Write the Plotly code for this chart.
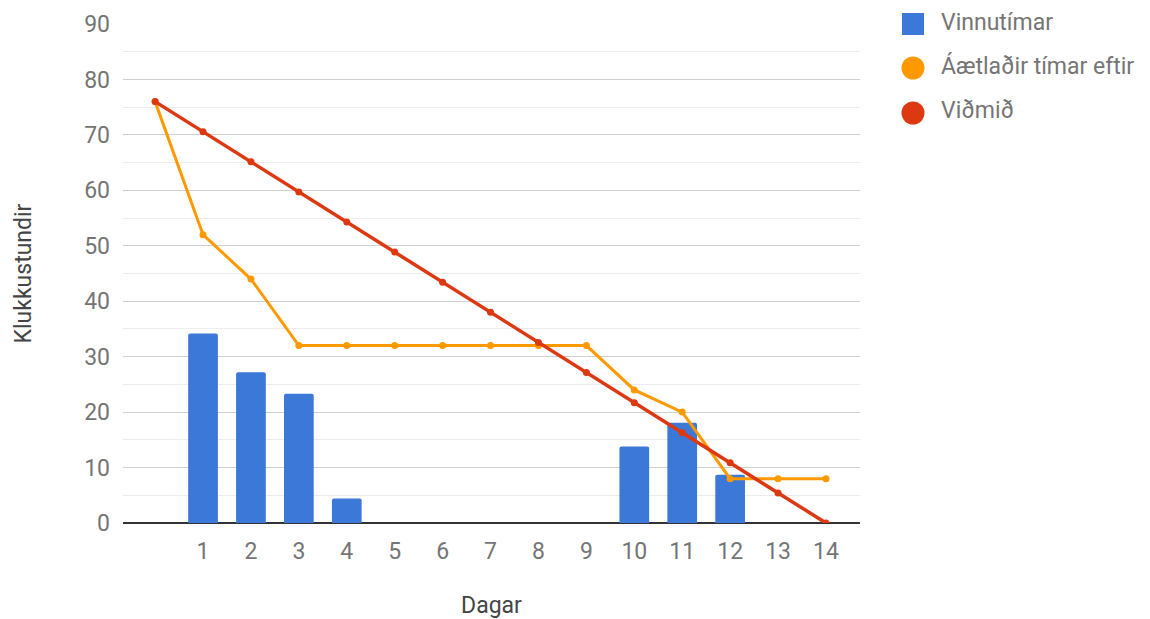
import plotly.graph_objects as go

# Days and series
days_bar = [1, 2, 3, 4, 5, 6, 7, 8, 9, 10, 11, 12, 13, 14]
vinnutimar = [34.2, 27.2, 23.3, 4.4, 0, 0, 0, 0, 0, 13.8, 18.1, 8.7, 0, 0]

days_line = [0, 1, 2, 3, 4, 5, 6, 7, 8, 9, 10, 11, 12, 13, 14]
aaetladir = [76, 52, 44, 32, 32, 32, 32, 32, 32, 32, 24, 20, 8, 8, 8]
vidmid = [76, 70.57, 65.14, 59.71, 54.29, 48.86, 43.43, 38, 32.57, 27.14,
          21.71, 16.29, 10.86, 5.43, 0]

series_names = ["Vinnutímar", "Áætlaðir tímar eftir", "Viðmið"]
x_ticks = [1, 2, 3, 4, 5, 6, 7, 8, 9, 10, 11, 12, 13, 14]
y_ticks = [0, 10, 20, 30, 40, 50, 60, 70, 80, 90]

BLUE = "#3c78d8"
ORANGE = "#ff9900"
RED = "#dc3912"
FONT = "Roboto"
GREY = "#757575"
TITLE = "#444444"
FS = 23

W, H = 1150, 619
M_L, M_R, M_T, M_B = 123, 290, 24, 96
PW, PH = W - M_L - M_R, H - M_T - M_B


def px_x(px):
    """Pixel column -> paper x."""
    return (px - M_L) / PW


def px_y(py):
    """Pixel row -> paper y."""
    return (H - M_B - py) / PH


fig = go.Figure()

fig.add_trace(go.Bar(
    x=days_bar, y=vinnutimar, name=series_names[0],
    marker=dict(color=BLUE, line=dict(width=0)), width=0.62,
))
fig.add_trace(go.Scatter(
    x=days_line, y=aaetladir, mode="lines+markers", name=series_names[1],
    line=dict(color=ORANGE, width=3), marker=dict(color=ORANGE, size=7),
))
fig.add_trace(go.Scatter(
    x=days_line, y=vidmid, mode="lines+markers", name=series_names[2],
    line=dict(color=RED, width=3.5), marker=dict(color=RED, size=7),
))

# Legend on the right: a square for the bars, circles for the lines
shapes = []
annotations = []
legend_rows = [(24, "rect", BLUE), (68, "circle", ORANGE), (113, "circle", RED)]
for (cy, kind, col), label in zip(legend_rows, series_names):
    half = 11 if kind == "rect" else 11.5
    shapes.append(dict(
        type=kind, xref="paper", yref="paper",
        x0=px_x(913 - half), x1=px_x(913 + half),
        y0=px_y(cy + half), y1=px_y(cy - half),
        fillcolor=col, line=dict(width=0), layer="above",
    ))
    annotations.append(dict(
        text=label, xref="paper", yref="paper",
        x=px_x(939), y=px_y(cy - 2), xanchor="left", yanchor="middle",
        showarrow=False, font=dict(family=FONT, size=FS, color=GREY),
    ))

fig.update_layout(
    width=W, height=H,
    margin=dict(l=M_L, r=M_R, t=M_T, b=M_B, autoexpand=False),
    paper_bgcolor="white", plot_bgcolor="white",
    font=dict(family=FONT, size=FS, color=GREY),
    barcornerradius=2,
    showlegend=False,
    shapes=shapes,
    annotations=annotations,
    xaxis=dict(
        range=[-0.67, 14.71], tickvals=x_ticks, ticktext=[str(t) for t in x_ticks],
        showgrid=False, zeroline=False, showline=False, ticks="",
        ticklabelstandoff=12,
        title=dict(text="Dagar", font=dict(family=FONT, size=FS, color=TITLE), standoff=38),
    ),
    yaxis=dict(
        range=[0, 90], tickvals=y_ticks, showgrid=True, gridcolor="#d0d0d0", gridwidth=1,
        minor=dict(dtick=5, showgrid=True, gridcolor="#ececec", gridwidth=1, ticks=""),
        zeroline=True, zerolinecolor="#333333", zerolinewidth=2,
        showline=False, ticks="", ticklabelstandoff=12,
        title=dict(text="Klukkustundir", font=dict(family=FONT, size=FS, color=TITLE), standoff=46),
    ),
)

fig.write_html("out.html")
